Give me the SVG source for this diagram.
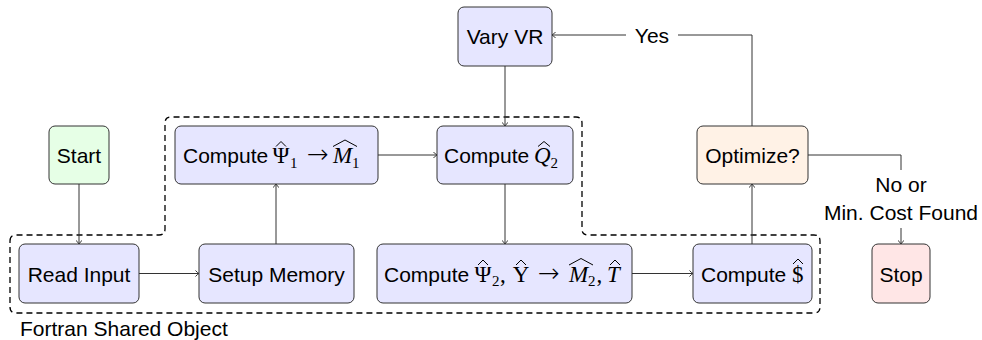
<svg xmlns="http://www.w3.org/2000/svg" width="982" height="340" viewBox="0 0 982 340">
<style>
.node{stroke:#333;stroke-width:1;}
.blue{fill:#e6e6ff;}
.green{fill:#e6ffe6;}
.orange{fill:#fff2e6;}
.red{fill:#ffe6e6;}
.t{font-family:"Liberation Sans",Arial,sans-serif;font-size:21px;fill:#000;}
.m{font-family:"Liberation Serif","Times New Roman",serif;font-size:23px;fill:#000;}
.mi{font-family:"Liberation Serif","Times New Roman",serif;font-size:23px;font-style:italic;fill:#000;}
.ar{font-family:"DejaVu Sans",sans-serif;font-size:26px;font-weight:200;fill:#000;}
.sub{font-family:"Liberation Serif","Times New Roman",serif;font-size:15px;fill:#000;}
.hat{fill:none;stroke:#000;stroke-width:1;}
.conn{fill:none;stroke:#333;stroke-width:1;}
.arr{marker-end:url(#ah);}
</style>
<defs>
<marker id="ah" markerWidth="8" markerHeight="8" refX="5" refY="4" orient="auto" markerUnits="userSpaceOnUse">
<path d="M1.5,1 Q3.5,3.3 5,4 Q3.5,4.7 1.5,7" fill="none" stroke="#333" stroke-width="1"/>
</marker>
</defs>
<rect width="982" height="340" fill="#fff"/>

<g id="fortran-boundary">
<path d="M10,241 Q10,235 16,235 L159,235 Q165,235 165,229 L165,123 Q165,117 171,117 L576,117 Q582,117 582,123 L582,229 Q582,235 588,235 L814,235 Q820,235 820,241 L820,307 Q820,313 814,313 L16,313 Q10,313 10,307 Z" fill="none" stroke="#000" stroke-width="1.3" stroke-dasharray="6 4"/>
<text class="t" x="20" y="336">Fortran Shared Object</text>
</g>

<g id="connectors">
<path class="conn arr" d="M79,184 L79,244"/>
<path class="conn arr" d="M139,273.5 L199,273.5"/>
<path class="conn arr" d="M276,244 L276,184"/>
<path class="conn arr" d="M378,155 L437,155"/>
<path class="conn arr" d="M505,184 L505,244"/>
<path class="conn arr" d="M632,273.5 L693,273.5"/>
<path class="conn arr" d="M752,244 L752,184"/>
<path class="conn arr" d="M505,66 L505,126"/>
<path class="conn arr" d="M752,126 L752,35 L552,35"/>
<rect x="626" y="24" width="52" height="24" fill="#fff"/>
<text class="t" x="652" y="43" text-anchor="middle">Yes</text>
<path class="conn" d="M808,155 L901,155 L901,170"/>
<text class="t" x="901" y="192" text-anchor="middle">No or</text>
<text class="t" x="901" y="220" text-anchor="middle">Min. Cost Found</text>
<path class="conn arr" d="M901,228 L901,244"/>
</g>

<g id="start">
<rect class="node green" x="49" y="126" width="60" height="58" rx="6"/>
<text class="t" x="79" y="163" text-anchor="middle">Start</text>
</g>

<g id="read-input">
<rect class="node blue" x="19" y="244" width="120" height="59" rx="6"/>
<text class="t" x="79" y="281.5" text-anchor="middle">Read Input</text>
</g>

<g id="setup-memory">
<rect class="node blue" x="199" y="244" width="155" height="59" rx="6"/>
<text class="t" x="276.5" y="281.5" text-anchor="middle">Setup Memory</text>
</g>

<g id="compute-psi1">
<rect class="node blue" x="175" y="126" width="203" height="58" rx="6"/>
<text class="t" x="183" y="163">Compute</text>
<text class="m" x="281" y="163" text-anchor="middle">Ψ</text>
<path class="hat" d="M276,146.5 L281,141.5 L286,146.5"/>
<text class="sub" x="290" y="167.5">1</text>
<text class="ar" x="318" y="163" text-anchor="middle">→</text>
<text class="mi" x="333" y="163">M</text>
<path class="hat" d="M333,146.5 L345,140 L357,146.5"/>
<text class="sub" x="352" y="167.5">1</text>
</g>

<g id="compute-q2">
<rect class="node blue" x="437" y="126" width="136" height="58" rx="6"/>
<text class="t" x="444" y="163">Compute</text>
<text class="mi" x="534" y="163">Q</text>
<path class="hat" d="M538,146.5 L544,141.5 L550,146.5"/>
<text class="sub" x="550.5" y="167.5">2</text>
</g>

<g id="vary-vr">
<rect class="node blue" x="458" y="7" width="94" height="59" rx="6"/>
<text class="t" x="505" y="44" text-anchor="middle">Vary VR</text>
</g>

<g id="compute-psi2">
<rect class="node blue" x="377" y="244" width="255" height="59" rx="6"/>
<text class="t" x="384" y="281.5">Compute</text>
<text class="m" x="483" y="281.5" text-anchor="middle">Ψ</text>
<path class="hat" d="M478,265 L483,260 L488,265"/>
<text class="sub" x="492" y="286">2</text>
<text class="m" x="500" y="281.5">,</text>
<text class="m" x="521" y="281.5" text-anchor="middle">Υ</text>
<path class="hat" d="M516,265 L521,260 L526,265"/>
<text class="ar" x="549" y="281.5" text-anchor="middle">→</text>
<text class="mi" x="569" y="281.5">M</text>
<path class="hat" d="M569,265 L581,258.5 L593,265"/>
<text class="sub" x="588" y="286">2</text>
<text class="m" x="596.5" y="281.5">,</text>
<text class="mi" x="607" y="281.5">T</text>
<path class="hat" d="M610,265 L615,260 L620,265"/>
</g>

<g id="compute-cost">
<rect class="node blue" x="693" y="244" width="119" height="59" rx="6"/>
<text class="t" x="701" y="281.5">Compute</text>
<text class="m" x="792" y="281.5">$</text>
<path class="hat" d="M793,264 L798,259 L803,264"/>
</g>

<g id="optimize">
<rect class="node orange" x="697" y="126" width="111" height="58" rx="6"/>
<text class="t" x="752.5" y="163" text-anchor="middle">Optimize?</text>
</g>

<g id="stop">
<rect class="node red" x="872" y="244" width="58" height="59" rx="6"/>
<text class="t" x="901" y="281.5" text-anchor="middle">Stop</text>
</g>
</svg>
